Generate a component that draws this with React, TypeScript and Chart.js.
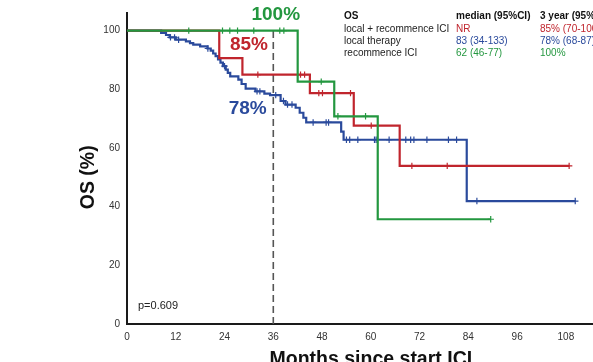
import { useEffect, useRef } from "react";
import { Chart, registerables } from "chart.js";

Chart.register(...registerables);

const FONT = "Arial, 'Liberation Sans', Helvetica, sans-serif";

const GREEN = "#23973f";
const RED = "#c0252d";
const BLUE = "#2a4a9c";

// Kaplan–Meier steps: event time (months since start ICI) and OS (%) after the event
const localIciMonths = [0, 22.7, 28.4, 45.0, 55.8, 67.1, 108.8];
const localIciOS = [100, 90.6, 85, 78.7, 67.6, 53.9, 53.9];
const localIciCensored = [32.2, 42.7, 43.7, 47.2, 48.1, 55.0, 60.1, 70.1, 78.8, 108.8];

const localMonths = [
  0, 8.4, 9.6, 10.5, 12.0, 14.5, 15.5, 16.3, 18.0, 19.8, 20.6, 21.2, 21.8, 22.4, 23.0,
  23.6, 24.3, 24.8, 25.4, 27.4, 28.2, 29.2, 31.6, 33.8, 35.2, 37.8, 39.0, 41.5, 42.5,
  43.4, 44.1, 52.7, 53.3, 83.6, 110.3,
];
const localOS = [
  100, 99.2, 98.5, 97.7, 96.9, 96.3, 95.7, 95.2, 94.6, 93.9, 93.2, 92.2, 91.3, 90.2, 89.1,
  87.9, 86.7, 85.6, 84.4, 83.3, 81.8, 80.2, 79.3, 78.5, 78.0, 76.0, 74.8, 73.7, 72.0,
  70.3, 68.7, 65.6, 62.8, 41.9, 41.9,
];
const localCensored = [
  10.7, 11.7, 12.7, 19.9, 24.0, 32.0, 32.7, 36.6, 38.5, 39.5, 40.6, 45.8, 49.0, 49.6,
  54.0, 54.8, 56.8, 60.9, 61.3, 64.5, 68.6, 69.8, 70.6, 73.8, 79.1, 81.1, 86.1, 110.3,
];

const iciMonths = [0, 42.0, 51.0, 61.7, 89.5];
const iciOS = [100, 82.6, 70.8, 35.7, 35.7];
const iciCensored = [15.2, 23.5, 25.3, 27.2, 31.2, 37.6, 38.6, 47.8, 51.9, 58.7, 89.5];

// landmark time for the 3-year estimates
const landmarkMonth = 36;

const xTickStep = 12;
const yTickStep = 20;

// summary table
const tableHeader = ["OS", "median (95%CI)", "3 year (95%CI)"];
const groupNames = ["local + recommence ICI", "local therapy", "recommence ICI"];
const groupMedians = ["NR", "83 (34-133)", "62 (46-77)"];
const groupThreeYear = ["85% (70-100)", "78% (68-87)", "100%"];
const groupColors = [RED, BLUE, GREEN];
const pValueText = "p=0.609";
const yAxisTitle = "OS (%)";

function survivalAt(months: number[], os: number[], t: number): number {
  let v = os[0];
  for (let i = 0; i < months.length; i++) {
    if (months[i] <= t) v = os[i];
  }
  return v;
}

function curve(label: string, months: number[], os: number[], color: string) {
  return {
    type: "line" as const,
    label,
    data: months.map((m, i) => ({ x: m, y: os[i] })),
    borderColor: color,
    borderWidth: 2.2,
    stepped: true,
    pointRadius: 0,
    fill: false,
  };
}

function censorMarks(label: string, months: number[], os: number[], times: number[], color: string) {
  return {
    type: "line" as const,
    label,
    data: times.map((t) => ({ x: t, y: survivalAt(months, os, t) })),
    showLine: false,
    pointStyle: "cross" as const,
    pointRadius: 3.2,
    pointBorderWidth: 1.2,
    borderColor: color,
    backgroundColor: color,
  };
}

const annotations = {
  id: "kmAnnotations",
  afterDatasetsDraw(chart: any) {
    const { ctx, scales } = chart;
    const x = scales.x;
    const y = scales.y;
    ctx.save();

    // y axis title, centred on the 0–100 range
    ctx.save();
    ctx.translate(89, y.getPixelForValue(50));
    ctx.rotate(-Math.PI / 2);
    ctx.font = `bold 19.5px ${FONT}`;
    ctx.textAlign = "center";
    ctx.textBaseline = "middle";
    ctx.fillStyle = "#111";
    ctx.fillText(yAxisTitle, 0, 0);
    ctx.restore();

    // 3-year estimates next to the landmark line
    const threeYear = [
      { v: survivalAt(iciMonths, iciOS, landmarkMonth), c: GREEN, m: 36.6, at: 105.3 },
      { v: survivalAt(localIciMonths, localIciOS, landmarkMonth), c: RED, m: 30.0, at: 95.1 },
      { v: survivalAt(localMonths, localOS, landmarkMonth), c: BLUE, m: 29.7, at: 73.4 },
    ];
    ctx.font = `bold 19px ${FONT}`;
    ctx.textAlign = "center";
    ctx.textBaseline = "middle";
    for (const t of threeYear) {
      ctx.fillStyle = t.c;
      ctx.fillText(`${Math.round(t.v)}%`, x.getPixelForValue(t.m), y.getPixelForValue(t.at));
    }

    // log-rank p value
    ctx.font = `11px ${FONT}`;
    ctx.textAlign = "left";
    ctx.fillStyle = "#222";
    ctx.fillText(pValueText, x.getPixelForValue(2.7), y.getPixelForValue(6.0));

    // summary table
    const cols = [344, 456, 540];
    ctx.font = `bold 10px ${FONT}`;
    ctx.fillStyle = "#111";
    tableHeader.forEach((h, i) => ctx.fillText(h, cols[i], 16));
    ctx.font = `10px ${FONT}`;
    groupNames.forEach((name, r) => {
      const rowY = 29 + r * 12;
      ctx.fillStyle = "#222";
      ctx.fillText(name, cols[0], rowY);
      ctx.fillStyle = groupColors[r];
      ctx.fillText(groupMedians[r], cols[1], rowY);
      ctx.fillText(groupThreeYear[r], cols[2], rowY);
    });
    ctx.restore();
  },
};

export default function App() {
  const canvasRef = useRef<HTMLCanvasElement | null>(null);

  useEffect(() => {
    const canvas = canvasRef.current;
    if (!canvas) return;
    // earlier datasets are painted on top
    const chart = new Chart(canvas, {
      type: "line",
      data: {
        datasets: [
          curve("recommence ICI", iciMonths, iciOS, GREEN),
          censorMarks("recommence ICI censored", iciMonths, iciOS, iciCensored, GREEN),
          curve("local + recommence ICI", localIciMonths, localIciOS, RED),
          censorMarks("local + recommence ICI censored", localIciMonths, localIciOS, localIciCensored, RED),
          curve("local therapy", localMonths, localOS, BLUE),
          censorMarks("local therapy censored", localMonths, localOS, localCensored, BLUE),
          {
            type: "line",
            label: "3 years",
            data: [
              { x: landmarkMonth, y: 0 },
              { x: landmarkMonth, y: 100 },
            ],
            borderColor: "#555",
            borderWidth: 1.6,
            borderDash: [7, 4],
            pointRadius: 0,
          },
        ] as any,
      },
      options: {
        animation: false,
        responsive: false,
        events: [],
        layout: { padding: { left: 0, right: 14, top: 12, bottom: 0 } },
        plugins: {
          legend: { display: false },
          tooltip: { enabled: false },
        },
        scales: {
          x: {
            type: "linear",
            min: 0,
            max: 120,
            grid: { display: false, drawTicks: false },
            border: { display: true, color: "#1a1a1a", width: 2 },
            ticks: {
              stepSize: xTickStep,
              padding: 7,
              color: "#333",
              font: { family: FONT, size: 10 },
            },
            title: {
              display: true,
              text: "Months since start ICI",
              color: "#111",
              font: { family: FONT, size: 19.5, weight: "bold" },
              padding: { top: 0, bottom: 0 },
            },
            afterFit(scale: any) {
              scale.height = 47;
            },
          },
          y: {
            type: "linear",
            min: 0,
            max: 106,
            grid: { display: false, drawTicks: false },
            border: { display: true, color: "#1a1a1a", width: 2 },
            ticks: {
              stepSize: yTickStep,
              padding: 7,
              color: "#333",
              font: { family: FONT, size: 10 },
            },
            afterBuildTicks(scale: any) {
              scale.ticks = scale.ticks.filter((t: any) => t.value % yTickStep === 0);
            },
            afterFit(scale: any) {
              scale.width = 127;
            },
          },
        },
      } as any,
      plugins: [annotations],
    });
    return () => chart.destroy();
  }, []);

  return (
    <div style={{ position: "fixed", left: 0, top: 0, width: 630, height: 371 }}>
      <canvas ref={canvasRef} width={630} height={371} />
    </div>
  );
}
